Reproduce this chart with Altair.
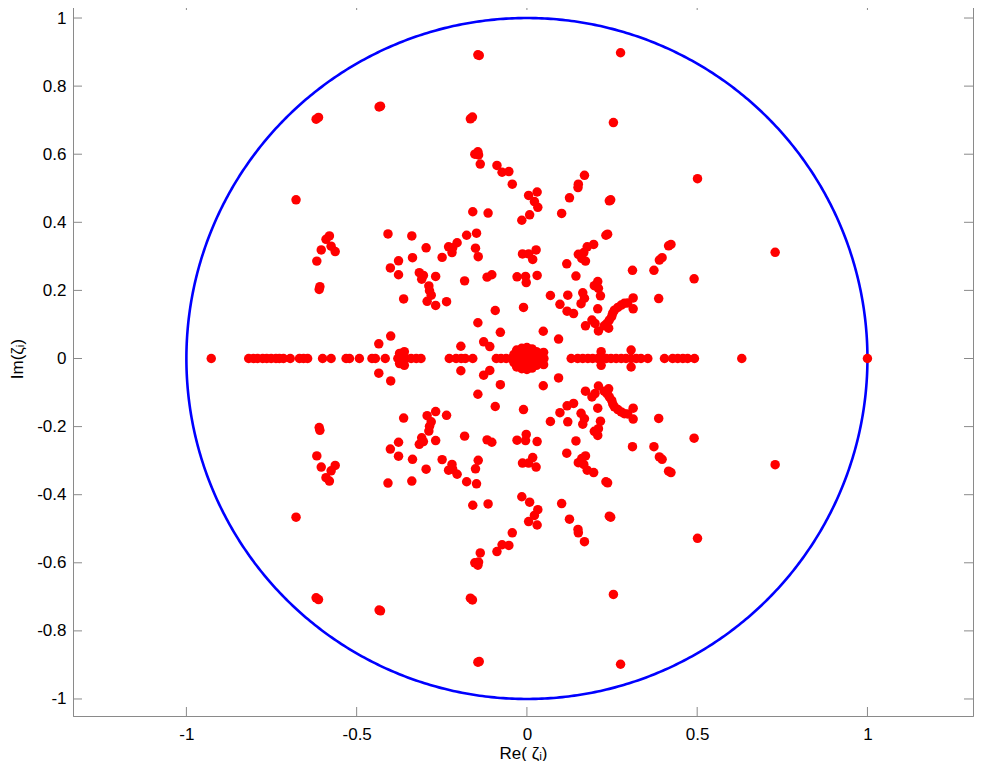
import altair as alt
import pandas as pd
import numpy as np

# Complex-plane roots: upper half-plane points (lower half is their conjugate)
upper_re = [-0.619, -0.612, -0.678,
            -0.580, -0.590, -0.604, -0.575, -0.563, -0.617, -0.608, -0.610,
            -0.144, -0.140, -0.430, -0.434, -0.166, -0.160, -0.144, -0.153, -0.142,
            -0.137, -0.088, -0.073, -0.053, -0.043, 0.005,
            -0.159, -0.114, -0.015, 0.008, -0.408, -0.338, -0.177, -0.148, -0.205,
            -0.230, -0.218, -0.296, -0.151, -0.220, -0.249, -0.143, -0.336, -0.013,
            0.005, -0.377, -0.401, -0.316, -0.304, -0.309, -0.377, -0.268, -0.183,
            -0.117, -0.103, -0.029, -0.004, -0.002, -0.288, -0.286, -0.281, -0.293,
            -0.362, -0.268, -0.236, -0.093, -0.010, -0.144, -0.078, -0.400, -0.435,
            -0.194, -0.127, -0.109, -0.360, -0.374, -0.368,
            0.275, 0.254, 0.501, 0.169, 0.151, 0.150, 0.125, 0.030, 0.242, 0.246,
            0.022, 0.032, 0.102, 0.237, 0.232, 0.423, 0.416, 0.196, 0.177, 0.151,
            0.167, 0.172, 0.161, 0.027, 0.017, 0.397, 0.389, 0.117, 0.310, 0.373,
            0.491, 0.030, 0.144, 0.208, 0.198, 0.210, 0.164, 0.069, 0.120, 0.169,
            0.216, 0.312, 0.387, 0.097, 0.159, 0.286, 0.277, 0.267, 0.296, 0.312,
            0.208, 0.257, 0.252, 0.118, 0.137, 0.249, 0.242, 0.191, 0.200, 0.235,
            0.227, 0.240, 0.172, 0.210, 0.048, 0.093, 0.306, 0.218, 0.049,
            0.729,
            -0.030, -0.015, 0.000, 0.015, 0.028, -0.038, 0.035, -0.020, 0.000, 0.018]
upper_im = [0.703, 0.708, 0.466,
            0.360, 0.350, 0.319, 0.330, 0.314, 0.286, 0.211, 0.203,
            0.892, 0.890, 0.741, 0.739, 0.704, 0.709, 0.607, 0.600, 0.598,
            0.571, 0.567, 0.547, 0.549, 0.512, 0.479,
            0.431, 0.427, 0.406, 0.422, 0.366, 0.360, 0.362, 0.368, 0.340,
            0.328, 0.325, 0.325, 0.324, 0.311, 0.297, 0.299, 0.296, 0.307,
            0.307, 0.287, 0.266, 0.252, 0.244, 0.233, 0.246, 0.241, 0.228,
            0.239, 0.246, 0.240, 0.241, 0.223, 0.213, 0.199, 0.186, 0.168,
            0.175, 0.156, 0.167, 0.141, 0.150, 0.105, 0.077, 0.066, 0.043,
            0.036, 0.049, 0.035, 0.020, 0.015, 0.008,
            0.898, 0.693, 0.528, 0.538, 0.512, 0.502, 0.472, 0.489, 0.463, 0.466,
            0.461, 0.444, 0.426, 0.365, 0.362, 0.335, 0.331, 0.335, 0.328, 0.306,
            0.311, 0.286, 0.294, 0.319, 0.291, 0.296, 0.289, 0.278, 0.259, 0.259,
            0.234, 0.244, 0.242, 0.226, 0.214, 0.206, 0.193, 0.185, 0.186, 0.177,
            0.184, 0.178, 0.176, 0.159, 0.161, 0.162, 0.157, 0.150, 0.163, 0.146,
            0.146, 0.142, 0.133, 0.139, 0.132, 0.123, 0.113, 0.113, 0.103, 0.103,
            0.096, 0.089, 0.096, 0.081, 0.080, 0.057, 0.025, 0.020, 0.018,
            0.312,
            0.025, 0.030, 0.032, 0.028, 0.020, 0.012, 0.010, 0.012, 0.015, 0.012]

# Real roots
real_re = [-0.927, -0.817, -0.803, -0.791, -0.776, -0.764, -0.751, -0.737, -0.727,
           -0.715, -0.695, -0.668, -0.656, -0.644, -0.600, -0.575, -0.531, -0.521,
           -0.492, -0.455, -0.445, -0.416, -0.379, -0.369, -0.355, -0.340, -0.325,
           -0.311, -0.228, -0.208, -0.193, -0.181, -0.159, -0.090, -0.076, -0.061,
           -0.046, -0.035, -0.025, -0.012, 0.000, 0.012, 0.025, 0.038, 0.050,
           0.130, 0.149, 0.164, 0.179, 0.193, 0.208, 0.218, 0.233, 0.247, 0.262,
           0.277, 0.291, 0.306, 0.321, 0.335, 0.355, 0.404, 0.428, 0.443, 0.458,
           0.472, 0.492, 0.631, 1.000]

x_ticks = [-1, -0.5, 0, 0.5, 1]
y_ticks = [-1, -0.8, -0.6, -0.4, -0.2, 0, 0.2, 0.4, 0.6, 0.8, 1]
x_domain = [-1.333, 1.310]
y_domain = [-1.05, 1.05]

pts = pd.DataFrame({
    "re": upper_re + upper_re + real_re,
    "im": upper_im + [-v for v in upper_im] + [0.0] * len(real_re),
})

ang = np.linspace(0, 2 * np.pi, 721)
circ = pd.DataFrame({"re": np.cos(ang), "im": np.sin(ang), "o": np.arange(len(ang))})

W, H = 900, 715
TL = 9
GREY = "#8a8a8a"

xs = alt.Scale(domain=x_domain, nice=False, zero=False)
ys = alt.Scale(domain=y_domain, nice=False, zero=False)

x_axis = alt.Axis(values=x_ticks, labelExpr="'' + datum.value", ticks=False,
                  grid=False, title="Re( ζᵢ)", labelPadding=10, titlePadding=3)
y_axis = alt.Axis(values=y_ticks, labelExpr="'' + datum.value", ticks=False,
                  grid=False, title="Im(ζᵢ)", labelPadding=7, titlePadding=10)

circle = alt.Chart(circ).mark_line(color="#0000ff", strokeWidth=2.6, clip=True).encode(
    x=alt.X("re:Q", scale=xs, axis=x_axis),
    y=alt.Y("im:Q", scale=ys, axis=y_axis),
    order="o:Q",
)

points = alt.Chart(pts).mark_circle(color="#ff0000", size=90, opacity=1).encode(
    x=alt.X("re:Q", scale=xs, axis=x_axis),
    y=alt.Y("im:Q", scale=ys, axis=y_axis),
)

ydf = pd.DataFrame({"v": y_ticks})
xdf = pd.DataFrame({"v": x_ticks})
tk = dict(color=GREY, strokeWidth=1)
lt = alt.Chart(ydf).mark_rule(**tk).encode(
    y=alt.Y("v:Q", scale=ys, axis=y_axis), x=alt.value(0), x2=alt.value(TL))
rt = alt.Chart(ydf).mark_rule(**tk).encode(
    y=alt.Y("v:Q", scale=ys, axis=y_axis), x=alt.value(W - TL), x2=alt.value(W))
bt = alt.Chart(xdf).mark_rule(**tk).encode(
    x=alt.X("v:Q", scale=xs, axis=x_axis), y=alt.value(H - TL), y2=alt.value(H))
tt = alt.Chart(xdf).mark_rule(**tk).encode(
    x=alt.X("v:Q", scale=xs, axis=x_axis), y=alt.value(0), y2=alt.value(TL))

chart = alt.layer(circle, points, lt, rt, bt, tt).properties(
    width=W, height=H, padding={"left": 0, "top": -8, "right": 0, "bottom": 0}
).configure_view(
    stroke=GREY, strokeWidth=1
).configure_axis(
    labelFont="Liberation Sans", titleFont="Liberation Sans",
    labelFontSize=17, titleFontSize=17, labelColor="#000000", titleColor="#000000",
    titleFontWeight="normal", domainColor=GREY, domainWidth=1,
)

chart.save("out.html", embed_options={"renderer": "svg", "actions": False})
